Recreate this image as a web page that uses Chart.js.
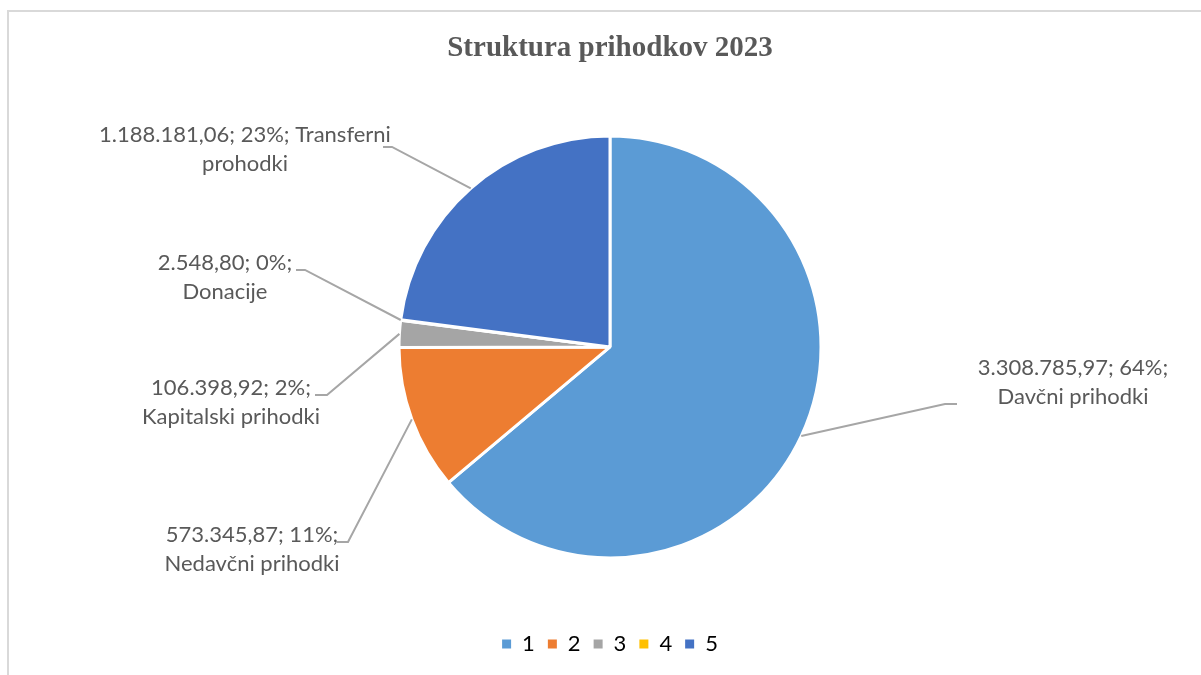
<!DOCTYPE html>
<html>
<head>
<meta charset="utf-8">
<title>Struktura prihodkov 2023</title>
<script src="https://cdn.jsdelivr.net/npm/chart.js@4/dist/chart.umd.min.js"></script>
<style>
    html, body { margin: 0; padding: 0; background: #ffffff; overflow: hidden; }
    .frame {
        position: absolute;
        left: 7px;
        top: 10px;
        width: 1400px;
        height: 800px;
        border-left: 2px solid #d9d9d9;
        border-top: 2px solid #d9d9d9;
    }
    .wrap { position: absolute; left: 0; top: 0; width: 1201px; height: 675px; }
</style>
</head>
<body>
<div class="frame"></div>
<div class="wrap"><canvas id="chart" width="1201" height="675"></canvas></div>
<script>
// Chart data
const categories = ['1', '2', '3', '4', '5'];
const sliceNames = ['Davčni prihodki', 'Nedavčni prihodki', 'Kapitalski prihodki', 'Donacije', 'Transferni prohodki'];
const values = [3308785.97, 573345.87, 106398.92, 2548.80, 1188181.06];
const sliceColors = ['#5b9bd5', '#ed7d31', '#a5a5a5', '#ffc000', '#4472c4'];

// Label placement, offsets in px from the pie centre
const labelLayout = [
    { elbow: [335, 57], tail: 347, text: [463, 21], wrap: 220 },
    { elbow: [-262, 195], tail: -273, text: [-358, 188], wrap: 220 },
    { elbow: [-283, 48], tail: -295, text: [-379, 41], wrap: 220 },
    { elbow: [-305, -77], tail: -314, text: [-385, -84], wrap: 220 },
    { elbow: [-218, -200], tail: -227, text: [-365, -212], wrap: 330 }
];

const TEXT_COLOR = '#595959';
const LABEL_FONT = '22px Lato';
const LINE_HEIGHT = 29;

function formatNumber(v) {
    const fixed = v.toFixed(2);
    const [intPart, dec] = fixed.split('.');
    return intPart.replace(/\B(?=(\d{3})+(?!\d))/g, '.') + ',' + dec;
}

function wrapText(ctx, text, maxWidth) {
    const words = text.split(' ');
    const lines = [];
    let line = '';
    words.forEach(word => {
        const test = line ? line + ' ' + word : word;
        if (line && ctx.measureText(test).width > maxWidth) {
            lines.push(line);
            line = word;
        } else {
            line = test;
        }
    });
    if (line) lines.push(line);
    return lines;
}

const pieLabels = {
    id: 'pieLabels',
    afterDatasetsDraw(chart) {
        const ctx = chart.ctx;
        const meta = chart.getDatasetMeta(0);
        const data = chart.data.datasets[0].data;
        const total = data.reduce((a, b) => a + b, 0);

        ctx.save();
        ctx.font = LABEL_FONT;
        meta.data.forEach((arc, i) => {
            const { x, y, startAngle, endAngle, outerRadius } = arc.getProps(['x', 'y', 'startAngle', 'endAngle', 'outerRadius'], true);
            const mid = (startAngle + endAngle) / 2;
            const sx = x + Math.cos(mid) * outerRadius;
            const sy = y + Math.sin(mid) * outerRadius;
            const lay = labelLayout[i];

            ctx.strokeStyle = '#a6a6a6';
            ctx.lineWidth = 2;
            ctx.beginPath();
            ctx.moveTo(sx, sy);
            ctx.lineTo(x + lay.elbow[0], y + lay.elbow[1]);
            ctx.lineTo(x + lay.tail, y + lay.elbow[1]);
            ctx.stroke();

            const pct = Math.round(data[i] / total * 100) + '%';
            const text = formatNumber(data[i]) + '; ' + pct + '; ' + sliceNames[i];
            const lines = wrapText(ctx, text, lay.wrap);
            ctx.fillStyle = TEXT_COLOR;
            ctx.textAlign = 'center';
            ctx.textBaseline = 'middle';
            lines.forEach((ln, k) => {
                ctx.fillText(ln, x + lay.text[0], y + lay.text[1] + k * LINE_HEIGHT);
            });
        });
        ctx.restore();
    }
};

function buildChart() {
    const ctx = document.getElementById('chart').getContext('2d');
    new Chart(ctx, {
        type: 'pie',
        data: {
            labels: categories,
            datasets: [{
                data: values,
                backgroundColor: sliceColors,
                borderColor: '#ffffff',
                borderWidth: 3,
                radius: 211
            }]
        },
        options: {
            responsive: false,
            animation: false,
            layout: { padding: { left: 19, right: 0, top: 0, bottom: 10 } },
            plugins: {
                title: {
                    display: true,
                    text: 'Struktura prihodkov 2023',
                    color: TEXT_COLOR,
                    font: { family: 'Liberation Serif', size: 29, weight: 'bold', lineHeight: 1.2 },
                    padding: { top: 31, bottom: 8 }
                },
                legend: {
                    position: 'bottom',
                    labels: {
                        boxWidth: 9,
                        boxHeight: 9,
                        padding: 13,
                        color: TEXT_COLOR,
                        font: { family: 'Lato', size: 22 },
                        generateLabels(chart) {
                            return chart.data.labels.map((label, i) => ({
                                text: label,
                                fillStyle: sliceColors[i],
                                strokeStyle: sliceColors[i],
                                lineWidth: 0,
                                hidden: false,
                                index: i
                            }));
                        }
                    }
                },
                tooltip: { enabled: false }
            }
        },
        plugins: [pieLabels]
    });
}

buildChart();
</script>
</body>
</html>
